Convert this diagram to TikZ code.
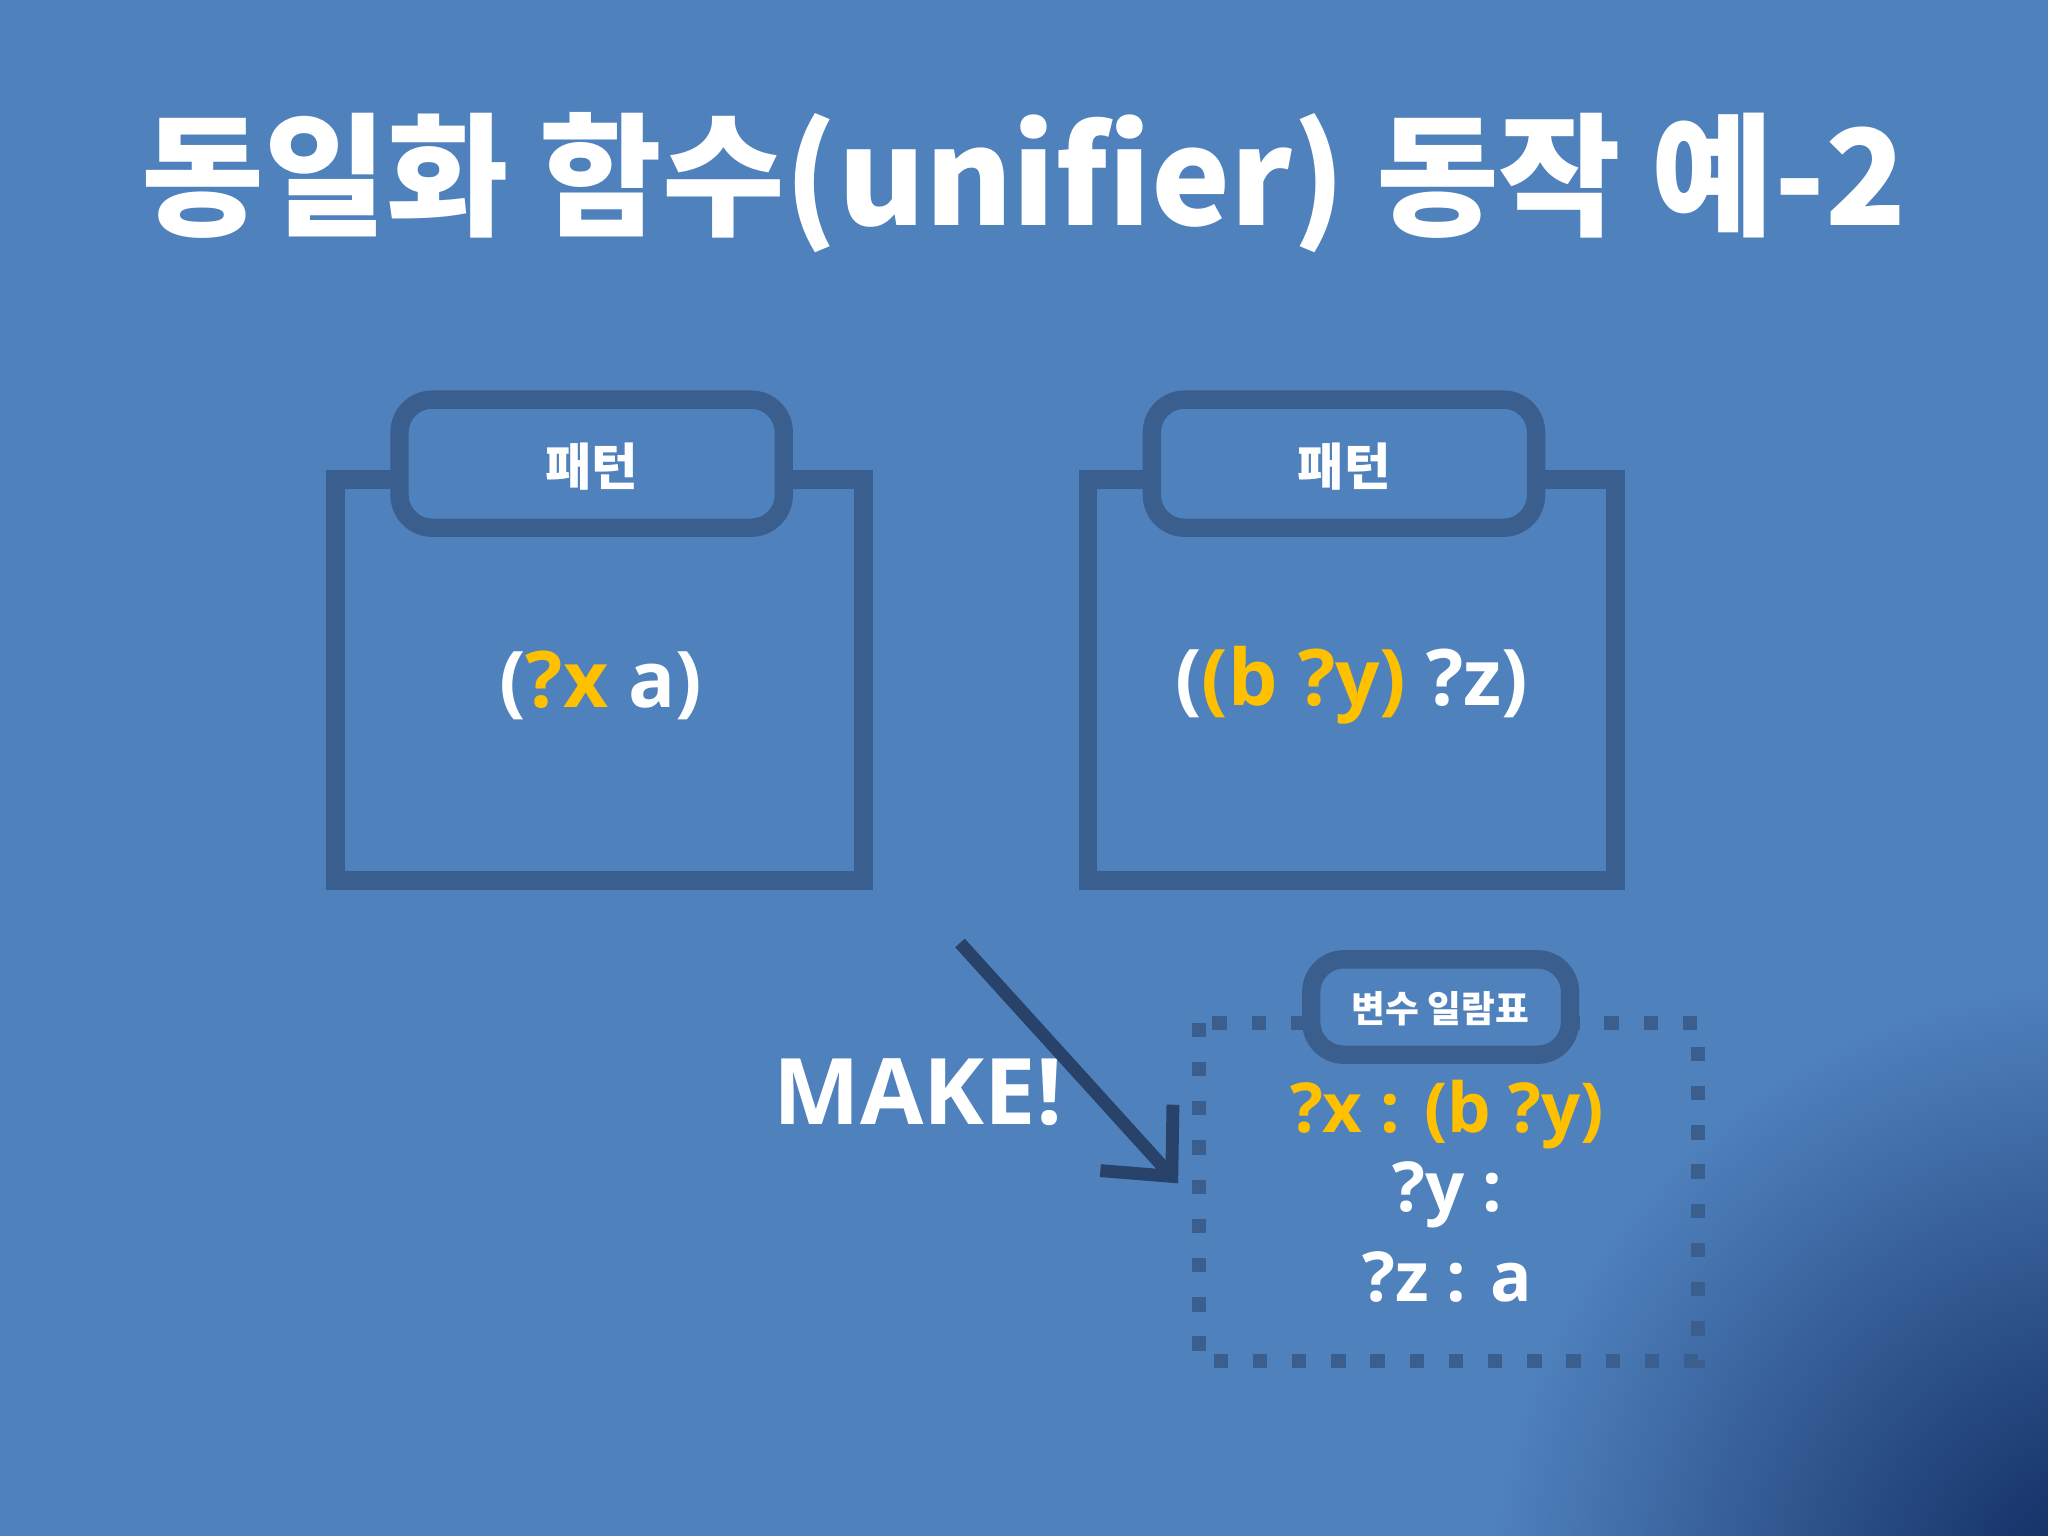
\documentclass[tikz,border=0pt]{standalone}
\usepackage{fontspec}
\setmainfont{Open Sans}
\newfontfamily\kr{Noto Sans CJK KR}
\usetikzlibrary{arrows.meta}
\definecolor{bg}{RGB}{79,129,189}
\definecolor{edge}{RGB}{58,95,142}
\definecolor{navy}{RGB}{12,36,90}
\definecolor{arr}{RGB}{40,66,105}
\definecolor{gold}{RGB}{255,192,0}
\tikzset{
 frame/.style={draw=edge,line width=4pt},
 tab/.style={draw=edge,fill=bg,line width=4pt,rounded corners=0.25cm},
 tabtxt/.style={text=white,font=\kr\bfseries\fontsize{11}{13}\selectfont},
 content/.style={text=white,font=\bfseries\fontsize{17}{20}\selectfont},
 tbl/.style={text=white,font=\bfseries\fontsize{15}{18}\selectfont},
}
\begin{document}
\begin{tikzpicture}[x=0.01cm,y=-0.01cm]
\fill[bg] (0,0) rectangle (1568,1176);
\begin{scope}
\clip (0,0) rectangle (1568,1176);
\shade[inner color=navy,outer color=bg] (1620,1230) circle (480);
\end{scope}
\node[text=white,font=\kr\bfseries\fontsize{29}{34}\selectfont] (title) at (784,140) {동일화 함수(unifier) 동작 예-2};
% left
\draw[frame] (257,367) rectangle (661,674);
\node[tab,minimum width=2.94cm,minimum height=0.98cm] (t1) at (453,355) {};
\node[tabtxt] (l1) at (453,357) {패턴};
\node[content] (c1) at (460,525) {(\textcolor{gold}{?x} a)};
% right
\draw[frame] (833,367) rectangle (1237,674);
\node[tab,minimum width=2.94cm,minimum height=0.98cm] (t2) at (1029,355) {};
\node[tabtxt] (l2) at (1029,357) {패턴};
\node[content] (c2) at (1035,525) {(\textcolor{gold}{(b ?y)} ?z)};
% table
\draw[edge,line width=0.11cm,dash pattern=on 0.11cm off 0.19cm] (918,783) rectangle (1300,1042);
\node[tab,minimum width=1.98cm,minimum height=0.73cm] (t3) at (1103,771) {};
\node[text=white,font=\kr\bfseries\fontsize{8}{10}\selectfont] (l3) at (1103,772) {변수 일람표};
\node[tbl,text=gold] (r1) at (1108,853) {?x : (b ?y)};
\node[tbl] (r2) at (1108,915) {?y :};
\node[tbl] (r3) at (1108,978) {?z : a};
\node[text=white,font=\bfseries\fontsize{20}{24}\selectfont] (mk) at (703,836) {MAKE!};
\coordinate (a0) at (735,722);
\coordinate (a1) at (902,906);
\draw[arr,line width=2.8pt,-{Straight Barb[length=0.4cm,width=0.75cm,line width=2.8pt]}] (a0) -- (a1);
\end{tikzpicture}
\end{document}
